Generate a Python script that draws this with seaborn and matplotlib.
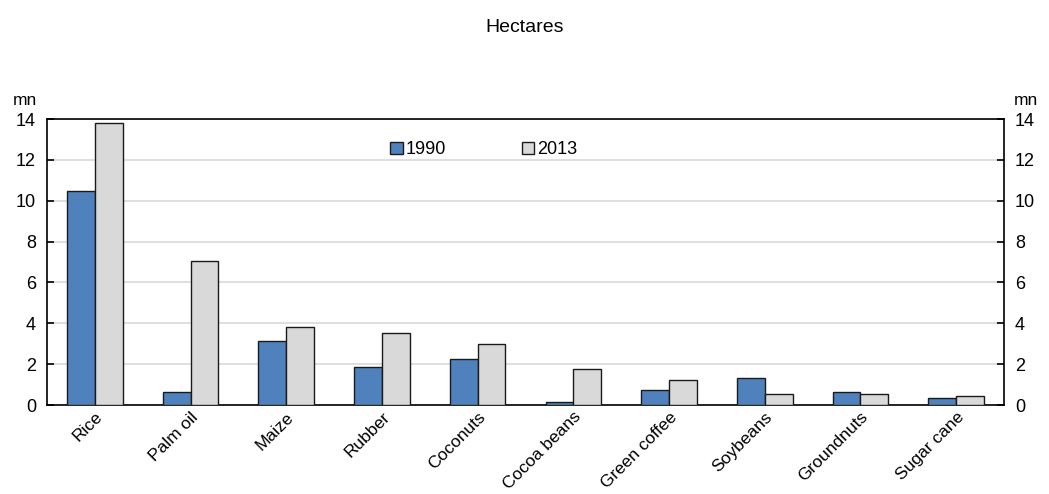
import matplotlib
matplotlib.use("Agg")
import matplotlib.pyplot as plt
import seaborn as sns
import pandas as pd

crops = ["Rice", "Palm oil", "Maize", "Rubber", "Coconuts", "Cocoa beans",
         "Green coffee", "Soybeans", "Groundnuts", "Sugar cane"]
v1990 = [10.5, 0.65, 3.15, 1.87, 2.25, 0.15, 0.75, 1.33, 0.65, 0.33]
v2013 = [13.8, 7.05, 3.8, 3.52, 3.0, 1.78, 1.24, 0.55, 0.52, 0.44]
years = ["1990", "2013"]
yticks = [0, 2, 4, 6, 8, 10, 12, 14]

df = pd.DataFrame({
    "crop": crops * 2,
    "value": v1990 + v2013,
    "year": [years[0]] * len(crops) + [years[1]] * len(crops),
})

sns.set_theme(style="white")
plt.rcParams["font.family"] = ["Liberation Sans", "DejaVu Sans"]
plt.rcParams["text.color"] = "black"
plt.rcParams["xtick.color"] = "black"
plt.rcParams["ytick.color"] = "black"

fig = plt.figure(figsize=(10.49, 4.94), dpi=100)
ax = fig.add_axes([0.0448, 0.180, 0.9123, 0.579])
sns.barplot(data=df, x="crop", y="value", hue="year", order=crops,
            hue_order=years, palette=["#4F81BD", "#D9D9D9"], saturation=1,
            width=0.58, edgecolor="#1a1a1a", linewidth=1.0, ax=ax, zorder=3)

ax.set_ylim(0, 14)
ax.set_xlim(-0.5, len(crops) - 0.5)
ax.set_yticks(yticks)
ax.yaxis.grid(True, color="#d9d9d9", linewidth=1.2, zorder=0)
ax.set_axisbelow(True)
ax.set_xlabel("")
ax.set_ylabel("")
for s in ax.spines.values():
    s.set_color("black")
    s.set_linewidth(1.2)

ax.tick_params(axis="y", which="both", direction="in", length=5, width=1.2,
               left=True, right=True, labelleft=True, labelright=True,
               labelsize=13, pad=8, color="black")
ax.tick_params(axis="x", length=0, labelsize=12.5, pad=3)
plt.setp(ax.get_xticklabels(), rotation=45, ha="right", rotation_mode="anchor")
for lbl in ax.get_xticklabels():
    lbl.set_color("black")

ax.text(-0.01, 1.04, "mn", transform=ax.transAxes, ha="right", va="bottom", fontsize=12.5)
ax.text(1.01, 1.04, "mn", transform=ax.transAxes, ha="left", va="bottom", fontsize=12.5)
fig.text(0.5, 0.945, "Hectares", ha="center", va="center", fontsize=14)

leg = ax.legend(loc="center left", bbox_to_anchor=(0.351, 0.893), ncol=2,
                frameon=False, fontsize=13, handlelength=0.7, handleheight=0.7,
                handletextpad=0.15, columnspacing=4.2, borderaxespad=0)
for t in leg.get_texts():
    t.set_color("black")

fig.savefig("out.png", dpi=100)
